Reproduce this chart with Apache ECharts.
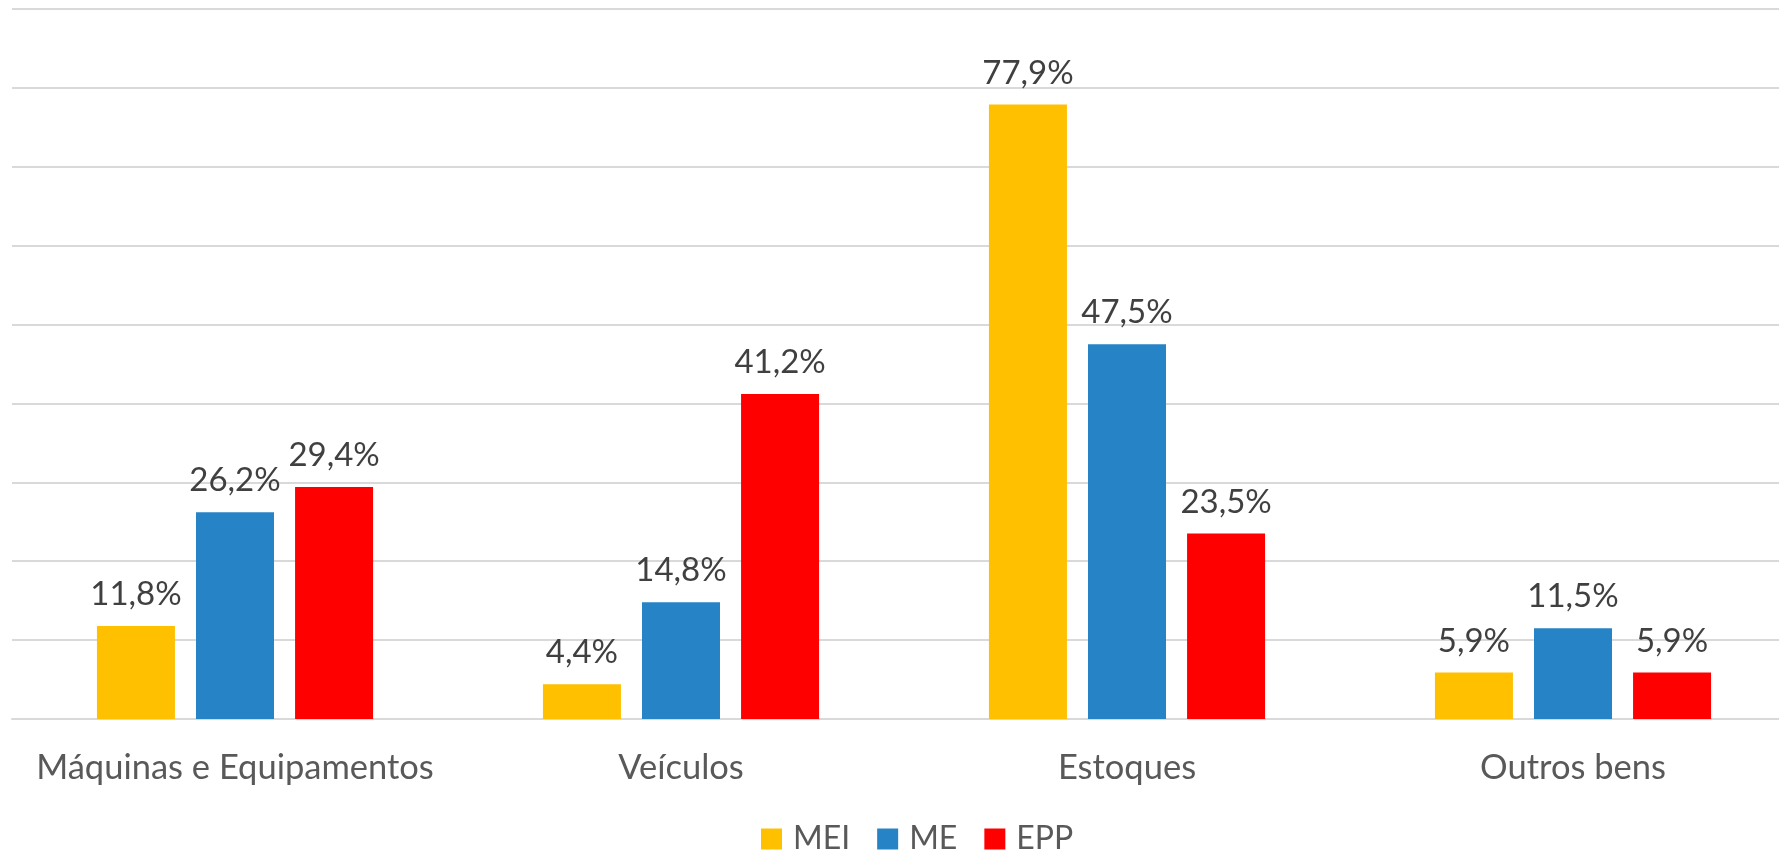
<!DOCTYPE html>
<html><head><meta charset="utf-8">
<script src="https://cdn.jsdelivr.net/npm/echarts@6/dist/echarts.min.js"></script>
<style>html,body{margin:0;padding:0;background:#fff}#c{width:1779px;height:852px}</style>
</head><body><div id="c"></div>
<script>
const categories = ['Máquinas e Equipamentos', 'Veículos', 'Estoques', 'Outros bens'];
const seriesNames = ['MEI', 'ME', 'EPP'];
const mei = [11.8, 4.4, 77.9, 5.9];
const me = [26.2, 14.8, 47.5, 11.5];
const epp = [29.4, 41.2, 23.5, 5.9];
const colors = ['#FFC000', '#2683C6', '#FF0000'];
const FONT = 'Lato';
function bar(name, data, color) {
  return {
    name, type: 'bar', data, barWidth: 78, barGap: '27%',
    itemStyle: { color },
    label: {
      show: true, position: 'top', distance: 15,
      formatter: p => p.value.toFixed(1).replace('.', ',') + '%',
      color: '#404040', fontSize: 33, fontFamily: FONT
    }
  };
}
const chart = echarts.init(document.getElementById('c'));
chart.setOption({
  animation: false,
  color: colors,
  grid: { left: 12, width: 1784, top: 9, bottom: 133, containLabel: false, outerBoundsMode: 'none' },
  legend: {
    bottom: -8, left: 756, itemWidth: 21, itemHeight: 21, itemGap: 27,
    icon: 'rect',
    textStyle: { color: '#595959', fontSize: 32, fontFamily: FONT, padding: [0, 0, 0, 6] },
    data: seriesNames
  },
  xAxis: {
    type: 'category', data: categories,
    axisLine: { lineStyle: { color: '#d9d9d9', width: 2 } },
    axisTick: { show: false },
    axisLabel: { color: '#595959', fontSize: 34.5, fontFamily: FONT, margin: 31, interval: 0 }
  },
  yAxis: {
    type: 'value', min: 0, max: 90, interval: 10,
    axisLabel: { show: false }, axisLine: { show: false }, axisTick: { show: false },
    splitLine: { lineStyle: { color: '#d9d9d9', width: 2 } }
  },
  series: [bar(seriesNames[0], mei, colors[0]), bar(seriesNames[1], me, colors[1]), bar(seriesNames[2], epp, colors[2])]
});
</script></body></html>
